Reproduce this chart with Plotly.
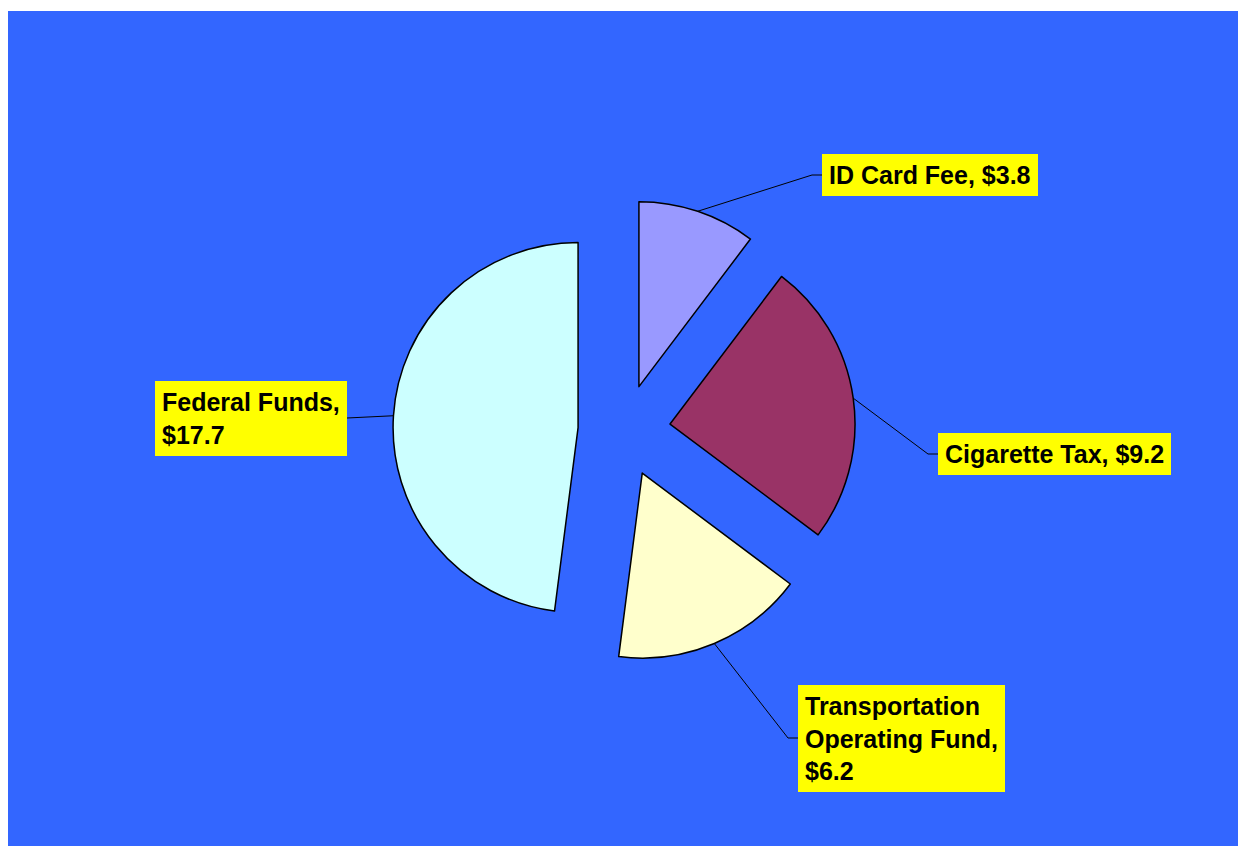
import math
import plotly.graph_objects as go

# Funding sources (millions of dollars)
labels = ["ID Card Fee", "Cigarette Tax", "Transportation Operating Fund", "Federal Funds"]
label_wraps = ["ID Card Fee, ", "Cigarette Tax, ", "Transportation<br>Operating Fund,<br>", "Federal Funds,<br>"]
values = [3.8, 9.2, 6.2, 17.7]
colors = ["#9999FF", "#993366", "#FFFFCC", "#CCFFFF"]
pull = 0.25

# Figure geometry
W, H = 1238, 846
ML, MT = 8, 11
PW, PH = W - ML, H - MT
dom_x = [0.313, 0.689]
dom_y = [0.2206, 0.7746]

# Label box anchor points (pixels) and which side the leader line attaches to
label_anchor = [(822, 175, "left"), (938, 454, "left"), (798, 738, "left"), (347, 418, "right")]
ELBOW = 10


def to_paper(px, py):
    return (px - ML) / PW, 1 - (py - MT) / PH


# Same sizing rule plotly uses for a pulled pie
box_w = PW * (dom_x[1] - dom_x[0])
box_h = PH * (dom_y[1] - dom_y[0])
r = min(box_w, box_h) / 2 / (1 + pull)
cx = ML + PW * (dom_x[0] + dom_x[1]) / 2
cy = MT + PH * (1 - dom_y[0]) - box_h / 2

fig = go.Figure(
    go.Pie(
        labels=labels,
        values=values,
        sort=False,
        direction="clockwise",
        rotation=0,
        pull=[pull] * len(values),
        marker=dict(colors=colors, line=dict(color="black", width=1.5)),
        textinfo="none",
        hoverinfo="label+value",
        showlegend=False,
        domain=dict(x=dom_x, y=dom_y),
    )
)

shapes = [
    dict(type="rect", xref="paper", yref="paper", x0=0, x1=1, y0=0, y1=1,
         fillcolor="#3366FF", line=dict(width=0), layer="below")
]
annotations = []
total = sum(values)
cum = 0.0
for v, wrap, (ax, ay, side) in zip(values, label_wraps, label_anchor):
    theta = 2 * math.pi * (cum + v / 2) / total
    cum += v
    ex = cx + r * (1 + pull) * math.sin(theta)
    ey = cy - r * (1 + pull) * math.cos(theta)
    if side == "left":
        kx = ax - ELBOW
        pts = [(ex, ey), (kx, ay), (ax, ay)]
    else:
        pts = [(ex, ey), (ax, ay)]
    ppts = [to_paper(*p) for p in pts]
    path = "M " + " L ".join(f"{x:.5f},{y:.5f}" for x, y in ppts)
    shapes.append(dict(type="path", xref="paper", yref="paper", path=path,
                       line=dict(color="black", width=1), layer="above"))
    axp, ayp = to_paper(ax, ay)
    annotations.append(dict(
        x=axp, y=ayp, xref="paper", yref="paper",
        xanchor=side, yanchor="middle", align="left",
        text=wrap + f"${v:.1f}", showarrow=False,
        font=dict(family="Arial, Liberation Sans, sans-serif", size=25,
                  color="black", weight="bold"),
        bgcolor="#FFFF00", borderpad=7, borderwidth=0,
    ))

fig.update_layout(
    width=W, height=H,
    margin=dict(l=ML, t=MT, r=0, b=0),
    paper_bgcolor="white",
    shapes=shapes,
    annotations=annotations,
)

fig.write_html("out.html")
